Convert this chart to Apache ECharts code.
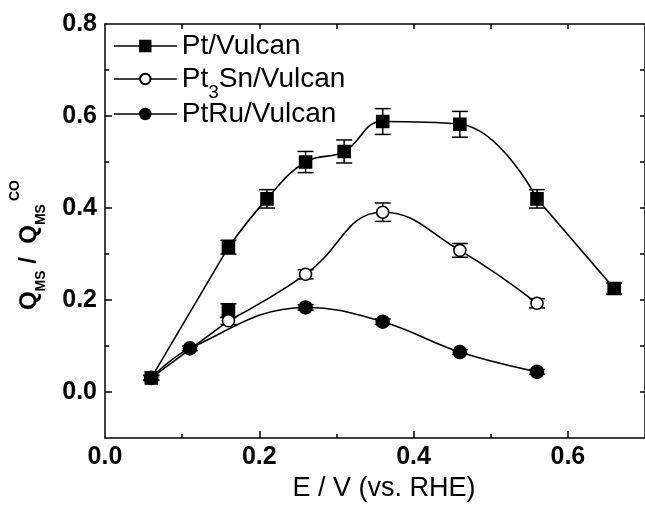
<!DOCTYPE html>
<html>
<head>
<meta charset="utf-8">
<script src="https://cdn.jsdelivr.net/npm/echarts@6/dist/echarts.min.js"></script>
<style>
  html, body { margin: 0; padding: 0; background: #fff; }
  #chart { width: 645px; height: 507px; }
</style>
</head>
<body>
<div id="chart"></div>
<script>
// Charge ratio Q_MS / Q_MS^CO versus electrode potential (V vs. RHE)
const potentialPt = [0.06, 0.16, 0.21, 0.26, 0.31, 0.36, 0.46, 0.56, 0.66];
const ratioPt     = [0.031, 0.315, 0.420, 0.500, 0.523, 0.588, 0.582, 0.420, 0.225];
const errPt       = [0.006, 0.015, 0.020, 0.023, 0.025, 0.028, 0.028, 0.020, 0.012];

const potentialPt3Sn = [0.06, 0.16, 0.26, 0.36, 0.46, 0.56];
const ratioPt3Sn     = [0.031, 0.155, 0.256, 0.391, 0.308, 0.193];
const errPt3Sn       = [0.005, 0.008, 0.010, 0.020, 0.015, 0.010];

const potentialPtRu = [0.06, 0.11, 0.26, 0.36, 0.46, 0.56];
const ratioPtRu     = [0.031, 0.095, 0.184, 0.153, 0.087, 0.044];
const errPtRu       = [0.005, 0.005, 0.006, 0.006, 0.005, 0.005];

// repeated Pt/Vulcan measurement at 0.16 V
const potentialPtRepeat = [0.16];
const ratioPtRepeat     = [0.177];
const errPtRepeat       = [0.015];

const xLabelValues = [0, 0.2, 0.4, 0.6];
const xMajorTicks  = [0.2, 0.4, 0.6];
const xMinorTicks  = [0.1, 0.3, 0.5];
const yLabelValues = [0, 0.2, 0.4, 0.6, 0.8];
const yMajorTicks  = [0, 0.2, 0.4, 0.6];
const yMinorTicks  = [0.1, 0.3, 0.5, 0.7];

const INK = '#000';
const FONT = '"Liberation Sans", Arial, sans-serif';

const pairs = (xs, ys) => xs.map((x, i) => [x, ys[i]]);
const bars = (xs, ys, es) => xs.map((x, i) => [x, ys[i] - es[i], ys[i] + es[i]]);

function segment(name, data, smooth) {
  return {
    name: name, type: 'line', data: data, smooth: smooth, smoothMonotone: 'none',
    showSymbol: false, silent: true, z: 2,
    lineStyle: { color: INK, width: 1.6 }
  };
}

function markers(name, data, symbol, fill, size) {
  return {
    name: name, type: 'line', data: data, symbol: symbol, symbolSize: size,
    showSymbol: true, z: 5,
    itemStyle: { color: fill, borderColor: INK, borderWidth: 1.6 },
    lineStyle: { opacity: 0 }
  };
}

function errorBars(name, data) {
  return {
    name: name, type: 'custom', data: data, z: 3, silent: true,
    encode: { x: 0, y: [1, 2] },
    renderItem: function (params, api) {
      const x = api.value(0);
      const lo = api.coord([x, api.value(1)]);
      const hi = api.coord([x, api.value(2)]);
      const hw = 8;
      const st = { stroke: INK, lineWidth: 1.5 };
      return {
        type: 'group',
        children: [
          { type: 'line', shape: { x1: lo[0], y1: lo[1], x2: hi[0], y2: hi[1] }, style: st },
          { type: 'line', shape: { x1: lo[0] - hw, y1: lo[1], x2: lo[0] + hw, y2: lo[1] }, style: st },
          { type: 'line', shape: { x1: hi[0] - hw, y1: hi[1], x2: hi[0] + hw, y2: hi[1] }, style: st }
        ]
      };
    }
  };
}

const ptPts = pairs(potentialPt, ratioPt);
const snPts = pairs(potentialPt3Sn, ratioPt3Sn);
const ruPts = pairs(potentialPtRu, ratioPtRu);

const series = [
  // connecting curves
  segment('Pt seg a', ptPts.slice(0, 2), false),
  segment('Pt seg b', ptPts.slice(1, 8), 0.45),
  segment('Pt seg c', ptPts.slice(7), false),
  segment('Pt3Sn seg a', snPts.slice(0, 2), false),
  segment('Pt3Sn seg b', snPts.slice(1), 0.45),
  segment('PtRu seg', ruPts, 0.4),
  // error bars
  errorBars('Pt err', bars(potentialPt, ratioPt, errPt)),
  errorBars('Pt repeat err', bars(potentialPtRepeat, ratioPtRepeat, errPtRepeat)),
  errorBars('Pt3Sn err', bars(potentialPt3Sn, ratioPt3Sn, errPt3Sn)),
  errorBars('PtRu err', bars(potentialPtRu, ratioPtRu, errPtRu)),
  // symbols
  markers('Pt/Vulcan', ptPts, 'rect', INK, 12),
  markers('Pt repeat', pairs(potentialPtRepeat, ratioPtRepeat), 'rect', INK, 12),
  markers('Pt3Sn/Vulcan', snPts, 'circle', '#fff', 12),
  markers('PtRu/Vulcan', ruPts, 'circle', INK, 13)
];

const legendText = {
  color: INK, fontFamily: FONT, fontSize: 28,
  rich: {
    t: { fontSize: 28, fontFamily: FONT, color: INK },
    s: { fontSize: 19, fontFamily: FONT, color: INK, padding: [28, 0, 0, 0] }
  }
};
function legendRow(name, top) {
  return {
    data: [name], left: 108, top: top, orient: 'vertical',
    itemWidth: 63, itemHeight: 13, itemGap: 0,
    selectedMode: false,
    lineStyle: { color: INK, width: 1.6, opacity: 1 },
    textStyle: legendText,
    formatter: n => n === 'Pt3Sn/Vulcan' ? '{t|Pt}{s|3}{t|Sn/Vulcan}' : '{t|' + n + '}'
  };
}

const axisLineStyle = { color: INK, width: 1.5 };
const tickLabel = { color: INK, fontFamily: FONT, fontSize: 25, fontWeight: 'bold' };

const option = {
  backgroundColor: '#fff',
  animation: false,
  textStyle: { fontFamily: FONT },
  grid: { left: 98, top: 24, width: 551, height: 420 },
  legend: [
    legendRow('Pt/Vulcan', 27),
    legendRow('Pt3Sn/Vulcan', 60),
    legendRow('PtRu/Vulcan', 95)
  ],
  xAxis: [
    {
      type: 'value', min: 0, max: 0.7, position: 'bottom',
      axisLine: { show: true, onZero: false, lineStyle: axisLineStyle },
      axisTick: { show: true, inside: true, length: 7, customValues: xMajorTicks, lineStyle: axisLineStyle },
      axisLabel: { customValues: xLabelValues, formatter: v => v.toFixed(1), margin: 7, ...tickLabel },
      splitLine: { show: false },
      name: 'E / V (vs. RHE)', nameLocation: 'middle', nameGap: 36,
      nameTextStyle: { color: INK, fontFamily: FONT, fontSize: 27, padding: [0, 0, 0, 18] }
    },
    {
      type: 'value', min: 0, max: 0.7, position: 'bottom',
      axisLine: { show: false, onZero: false },
      axisTick: { show: true, inside: true, length: 4, customValues: xMinorTicks, lineStyle: axisLineStyle },
      axisLabel: { show: false }, splitLine: { show: false }
    },
    {
      type: 'value', min: 0, max: 0.7, position: 'top',
      axisLine: { show: true, onZero: false, lineStyle: axisLineStyle },
      axisTick: { show: true, inside: true, length: 5, customValues: [0.1, 0.2, 0.3, 0.4, 0.5, 0.6], lineStyle: axisLineStyle },
      axisLabel: { show: false }, splitLine: { show: false }
    }
  ],
  yAxis: [
    {
      type: 'value', min: -0.1, max: 0.8, position: 'left',
      axisLine: { show: true, onZero: false, lineStyle: axisLineStyle },
      axisTick: { show: true, inside: true, length: 7, customValues: yMajorTicks, lineStyle: axisLineStyle },
      axisLabel: { customValues: yLabelValues, formatter: v => v.toFixed(1), margin: 8, ...tickLabel },
      splitLine: { show: false },
      name: '{q|Q}{sub|MS}{q| /  Q}{sub|MS}{sup|CO}',
      nameLocation: 'middle', nameRotate: 90, nameGap: 55,
      nameTextStyle: {
        color: INK, fontFamily: FONT, fontSize: 24, fontWeight: 'bold',
        padding: [0, 28, 0, 0],
        rich: {
          q: { fontSize: 24, fontWeight: 'bold', fontFamily: FONT, color: INK },
          sub: { fontSize: 14, fontWeight: 'bold', fontFamily: FONT, color: INK, padding: [24, 0, 0, 0] },
          sup: { fontSize: 14, fontWeight: 'bold', fontFamily: FONT, color: INK, padding: [0, 0, 28, 3] }
        }
      }
    },
    {
      type: 'value', min: -0.1, max: 0.8, position: 'left',
      axisLine: { show: false, onZero: false },
      axisTick: { show: true, inside: true, length: 4, customValues: yMinorTicks, lineStyle: axisLineStyle },
      axisLabel: { show: false }, splitLine: { show: false }
    },
    {
      type: 'value', min: -0.1, max: 0.8, position: 'right',
      axisLine: { show: true, onZero: false, lineStyle: axisLineStyle },
      axisTick: { show: true, inside: true, length: 5, customValues: [0, 0.1, 0.2, 0.3, 0.4, 0.5, 0.6, 0.7], lineStyle: axisLineStyle },
      axisLabel: { show: false }, splitLine: { show: false }
    }
  ],
  series: series
};

const chart = echarts.init(document.getElementById('chart'), null, { renderer: 'canvas' });
chart.setOption(option);
</script>
</body>
</html>
